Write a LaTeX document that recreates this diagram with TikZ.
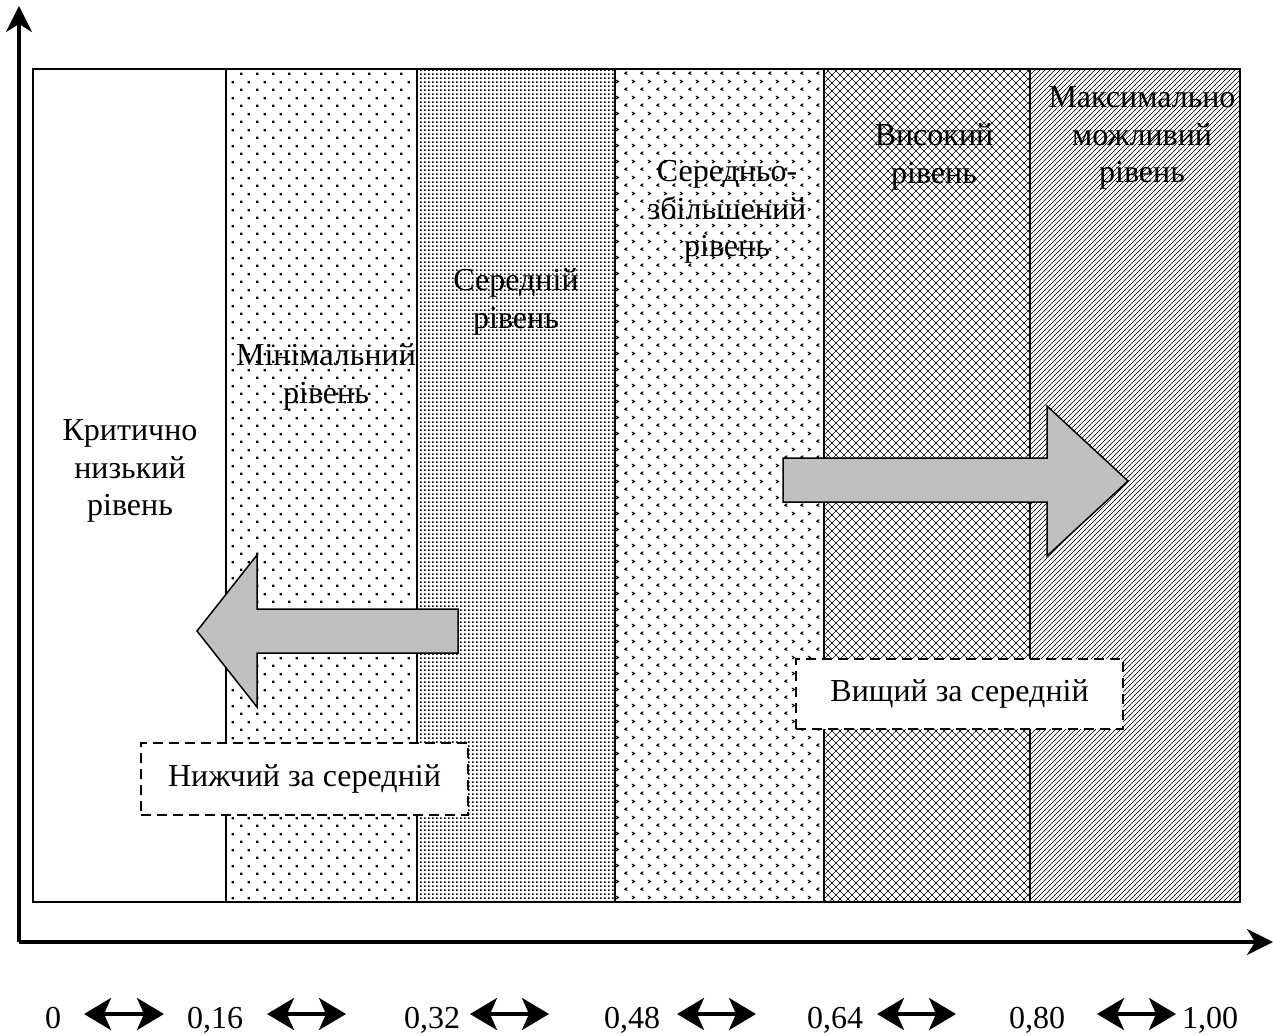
\documentclass[tikz,border=0pt]{standalone}
\usepackage{fontspec}
\setmainfont{Liberation Serif}
\usetikzlibrary{patterns,arrows.meta}

\pgfdeclarepatternformonly{sparsedots}{\pgfqpoint{0pt}{0pt}}{\pgfqpoint{16pt}{16pt}}{\pgfqpoint{16pt}{16pt}}{%
  \pgfpathrectangle{\pgfqpoint{0pt}{0pt}}{\pgfqpoint{2.4pt}{2.4pt}}%
  \pgfpathrectangle{\pgfqpoint{8pt}{8pt}}{\pgfqpoint{2.4pt}{2.4pt}}%
  \pgfusepath{fill}}
\pgfdeclarepatternformonly{densedots}{\pgfqpoint{0pt}{0pt}}{\pgfqpoint{4pt}{4pt}}{\pgfqpoint{4pt}{4pt}}{%
  \pgfpathrectangle{\pgfqpoint{0pt}{0pt}}{\pgfqpoint{2pt}{2pt}}%
  \pgfusepath{fill}}
\pgfdeclarepatternformonly{chevrons}{\pgfqpoint{0pt}{0pt}}{\pgfqpoint{16pt}{16pt}}{\pgfqpoint{16pt}{16pt}}{%
  \pgfsetlinewidth{1.2pt}%
  \pgfpathmoveto{\pgfqpoint{3.5pt}{0.5pt}}\pgfpathlineto{\pgfqpoint{1pt}{2pt}}\pgfpathlineto{\pgfqpoint{3.5pt}{3.5pt}}%
  \pgfpathmoveto{\pgfqpoint{8.5pt}{8.5pt}}\pgfpathlineto{\pgfqpoint{11pt}{10pt}}\pgfpathlineto{\pgfqpoint{8.5pt}{11.5pt}}%
  \pgfusepath{stroke}}
\pgfdeclarepatternformonly{xhatch}{\pgfqpoint{-1pt}{-1pt}}{\pgfqpoint{9pt}{9pt}}{\pgfqpoint{8pt}{8pt}}{%
  \pgfsetlinewidth{0.55pt}%
  \pgfpathmoveto{\pgfqpoint{-0.5pt}{-0.5pt}}\pgfpathlineto{\pgfqpoint{8.5pt}{8.5pt}}%
  \pgfpathmoveto{\pgfqpoint{-0.5pt}{8.5pt}}\pgfpathlineto{\pgfqpoint{8.5pt}{-0.5pt}}%
  \pgfusepath{stroke}}
\pgfdeclarepatternformonly{nelines}{\pgfqpoint{-1pt}{-1pt}}{\pgfqpoint{6pt}{6pt}}{\pgfqpoint{5pt}{5pt}}{%
  \pgfsetlinewidth{0.65pt}%
  \pgfpathmoveto{\pgfqpoint{-0.5pt}{-0.5pt}}\pgfpathlineto{\pgfqpoint{5.5pt}{5.5pt}}%
  \pgfusepath{stroke}}

\definecolor{arrowgray}{HTML}{C0C0C0}

\tikzset{
  axisline/.style={line width=3.5pt, -{Stealth[length=26pt,width=26pt,inset=8pt]}},
  dblarrow/.style={line width=3.2pt, {Stealth[length=27pt,width=32pt,inset=7pt]}-{Stealth[length=27pt,width=32pt,inset=7pt]}},
  bigarrow/.style={draw=black, line width=1.5pt, fill=arrowgray, line join=miter},
  colborder/.style={line width=2pt},
  lvl/.style={align=center, inner sep=0pt, font=\fontsize{32}{37.5}\selectfont},
  dbox/.style={draw, dash pattern=on 10pt off 6pt, line width=1.3pt, fill=white, font=\fontsize{32}{37}\selectfont},
  tick/.style={inner sep=0pt, anchor=base, font=\fontsize{32}{37}\selectfont}
}

\begin{document}
\begin{tikzpicture}[x=1pt,y=-1pt]
\useasboundingbox (0,0) rectangle (1273,1035);

% column fills
\path[pattern=sparsedots] (226,69) rectangle (417,902);
\path[pattern=densedots] (417,69) rectangle (615,902);
\path[pattern=chevrons] (615,69) rectangle (824,902);
\path[pattern=xhatch] (824,69) rectangle (1030,902);
\path[pattern=nelines] (1030,69) rectangle (1240,902);

% frame and borders
\draw[line width=1.5pt] (33,69) rectangle (1240,902);
\foreach \xx in {226,417,615,824,1030} \draw[colborder] (\xx,69) -- (\xx,902);

% level texts
\node[lvl] (crit) at (130,471) {Критично\\низький\\рівень};
\node[lvl] (mini) at (326,377) {Мінімальний\\рівень};
\node[lvl] (sered) at (516,302) {Середній\\рівень};
\node[lvl] (seredzb) at (727,212) {Середньо-\\збільшений\\рівень};
\node[lvl] (vys) at (934,157) {Високий\\рівень};
\node[lvl] (maks) at (1142,138) {Максимально\\можливий\\рівень};

% big arrows
\draw[bigarrow] (458,609) -- (257,609) -- (257,555) -- (197,631) -- (257,707) -- (257,653) -- (458,653) -- cycle;
\draw[bigarrow] (783,458) -- (1047,458) -- (1047,406) -- (1128,481) -- (1047,556) -- (1047,502) -- (783,502) -- cycle;

% dashed boxes
\node[dbox, minimum width=327pt, minimum height=72pt] (low) at (304.5,779) {Нижчий за середній};
\node[dbox, minimum width=327pt, minimum height=70pt] (high) at (959.5,694) {Вищий за середній};

% axes
\coordinate (O) at (19,942);
\coordinate (ytip) at (19,6);
\coordinate (xtip) at (1273,942);
\draw[axisline] (O) -- (ytip);
\draw[axisline] (O) -- (xtip);

% scale labels
\node[tick] (t0) at (53,1028) {0};
\node[tick] (t1) at (215,1028) {0,16};
\node[tick] (t2) at (432,1028) {0,32};
\node[tick] (t3) at (632,1028) {0,48};
\node[tick] (t4) at (835,1028) {0,64};
\node[tick] (t5) at (1037,1028) {0,80};
\node[tick] (t6) at (1210,1028) {1,00};

\coordinate (a1l) at (84,1014);  \coordinate (a1r) at (164,1014);
\coordinate (a2l) at (267,1014); \coordinate (a2r) at (346,1014);
\coordinate (a3l) at (470,1014); \coordinate (a3r) at (549,1014);
\coordinate (a4l) at (677,1014); \coordinate (a4r) at (756,1014);
\coordinate (a5l) at (877,1014); \coordinate (a5r) at (956,1014);
\coordinate (a6l) at (1097,1014); \coordinate (a6r) at (1176,1014);
\draw[dblarrow] (a1l) -- (a1r);
\draw[dblarrow] (a2l) -- (a2r);
\draw[dblarrow] (a3l) -- (a3r);
\draw[dblarrow] (a4l) -- (a4r);
\draw[dblarrow] (a5l) -- (a5r);
\draw[dblarrow] (a6l) -- (a6r);
\end{tikzpicture}
\end{document}
